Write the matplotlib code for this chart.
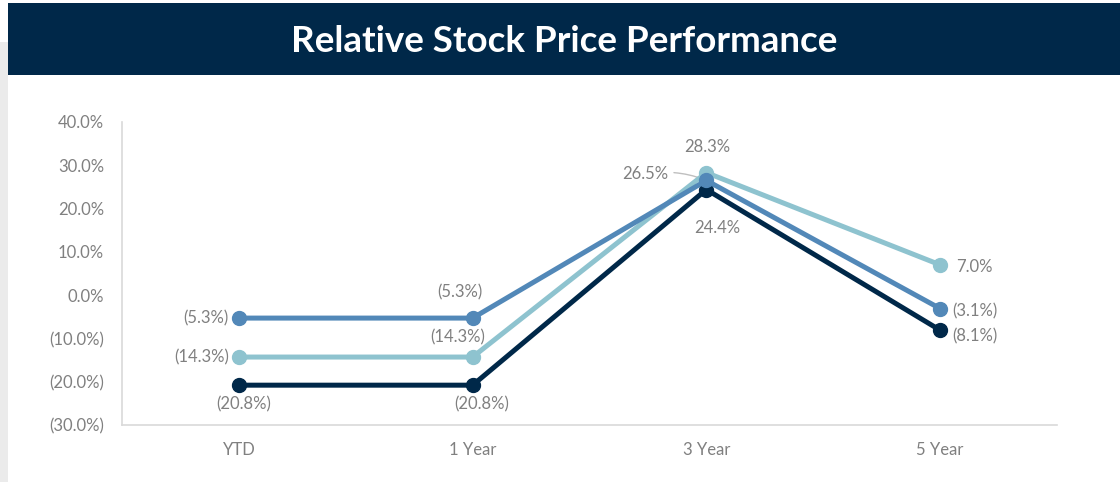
import matplotlib.pyplot as plt
from matplotlib.patches import Rectangle

plt.rcParams['font.family'] = ['Lato', 'DejaVu Sans']

periods = ['YTD', '1 Year', '3 Year', '5 Year']
navy = [-20.8, -20.8, 24.4, -8.1]
blue = [-5.3, -5.3, 26.5, -3.1]
teal = [-14.3, -14.3, 28.3, 7.0]
yticks = [-30, -20, -10, 0, 10, 20, 30, 40]

NAVY = '#002849'
BLUE = '#5288b8'
TEAL = '#8ec3cf'
GRAY = '#808080'

def fmt(v):
    return f'({abs(v):.1f}%)' if v < 0 else f'{v:.1f}%'

fig = plt.figure(figsize=(11.2, 4.82), dpi=100)
fig.patch.set_facecolor('white')

# page decorations: left gray strip and title banner
fig.patches.append(Rectangle((0, 0), 8 / 1120, 440 / 482, transform=fig.transFigure,
                             facecolor='#ebebeb', edgecolor='none', zorder=0))
fig.patches.append(Rectangle((8 / 1120, 407 / 482), 1, 72 / 482, transform=fig.transFigure,
                             facecolor='#002849', edgecolor='none', zorder=0))
fig.text(0.5035, 441 / 482, 'Relative Stock Price Performance', color='white',
         fontsize=26.5, fontweight='bold', ha='center', va='center')

ax = fig.add_axes([122 / 1120, 57 / 482, 935 / 1120, 303 / 482])
x = range(len(periods))
kw = dict(lw=3.6, marker='o', ms=10, solid_capstyle='round')
ax.plot(x, navy, color=NAVY, zorder=3, **kw)
ax.plot(x, teal, color=TEAL, zorder=4, **kw)
ax.plot(x, blue, color=BLUE, zorder=5, **kw)

ax.set_xlim(-0.5, 3.5)
ax.set_ylim(-30, 40)
ax.set_yticks(yticks)
ax.set_yticklabels([fmt(v) for v in yticks])
ax.set_xticks(list(x))
ax.set_xticklabels(periods)
ax.tick_params(length=0, colors=GRAY, labelsize=12)
ax.tick_params(axis='y', pad=13)
ax.tick_params(axis='x', pad=12)
for s in ['top', 'right']:
    ax.spines[s].set_visible(False)
for s in ['left', 'bottom']:
    ax.spines[s].set_color('#d9d9d9')
    ax.spines[s].set_linewidth(1.2)

def lab(i, v, dx, dy, ha='center'):
    ax.annotate(fmt(v), (i, v), xytext=(dx / 1.389, dy / 1.389), textcoords='offset points',
                ha=ha, va='center', color=GRAY, fontsize=12)

# YTD
lab(0, blue[0], -10, 0, 'right')
lab(0, teal[0], -10, 0, 'right')
lab(0, navy[0], 5, -19)
# 1 Year
lab(1, blue[1], -13, 26)
lab(1, teal[1], -15, 20)
lab(1, navy[1], 9, -19)
# 3 Year
lab(2, teal[2], 1, 26)
lab(2, navy[2], 11, -38)
ax.annotate(fmt(blue[2]), (2, blue[2]), xytext=(-38 / 1.389, 6 / 1.389), textcoords='offset points',
            ha='right', va='center', color=GRAY, fontsize=12,
            arrowprops=dict(arrowstyle='-', color='#bfbfbf', lw=1,
                            connectionstyle='arc3,rad=-0.15', shrinkA=2, shrinkB=2))
# 5 Year
lab(3, teal[3], 16, -2, 'left')
lab(3, blue[3], 12, -3, 'left')
lab(3, navy[3], 12, -6, 'left')

fig.savefig('out.png', dpi=100)
